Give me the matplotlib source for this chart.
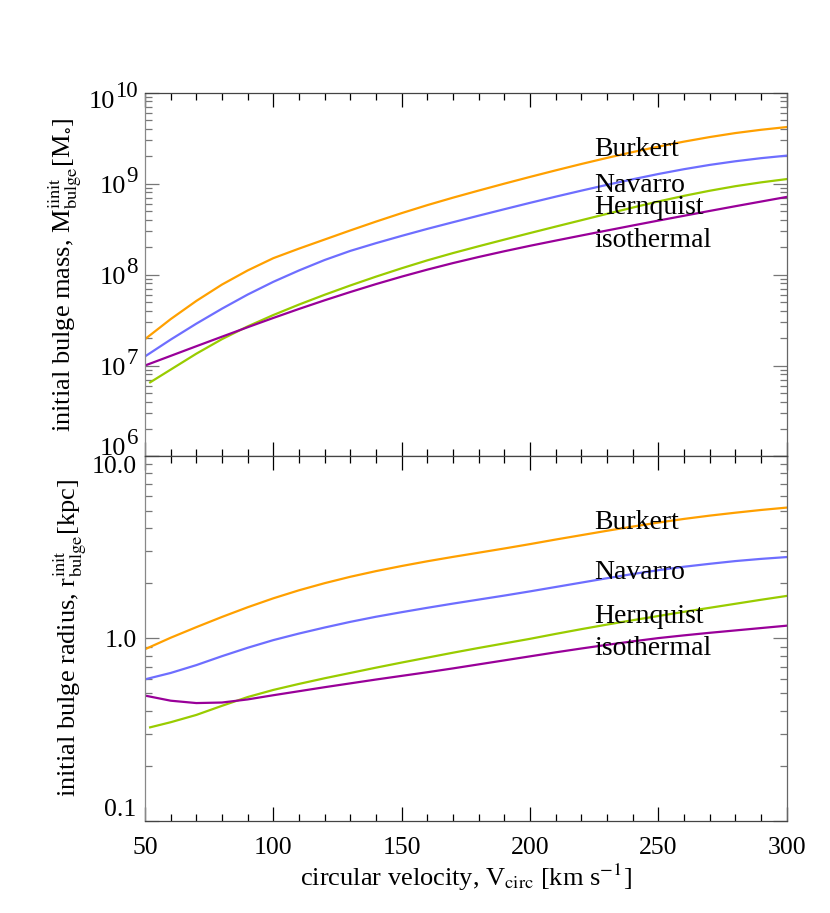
import numpy as np
import matplotlib
matplotlib.use("Agg")
import matplotlib.pyplot as plt
from matplotlib.ticker import LogLocator, FixedLocator, FixedFormatter, NullFormatter, MultipleLocator
from matplotlib.transforms import blended_transform_factory, offset_copy

plt.rcParams['font.family'] = ['Liberation Serif', 'DejaVu Serif']
plt.rcParams['mathtext.fontset'] = 'stix'

# circular velocity grid [km/s]
vcirc = [50, 60, 70, 80, 90, 100, 110, 120, 130, 140, 150, 160, 170, 180, 190,
         200, 210, 220, 230, 240, 250, 260, 270, 280, 290, 300]
vcirc_hern = [52] + vcirc[1:]

# log10 initial bulge mass [Msun]
logm_burkert = [7.29, 7.51, 7.71, 7.89, 8.045, 8.18, 8.285, 8.385, 8.485, 8.582, 8.675, 8.763, 8.845,
                8.923, 8.999, 9.073, 9.145, 9.215, 9.282, 9.346, 9.406, 9.461, 9.511, 9.555, 9.591, 9.621]
logm_navarro = [7.10, 7.285, 7.46, 7.625, 7.78, 7.92, 8.045, 8.16, 8.26, 8.345, 8.425, 8.502, 8.575,
                8.647, 8.718, 8.788, 8.856, 8.922, 8.986, 9.047, 9.105, 9.158, 9.205, 9.245, 9.279, 9.307]
logm_hernquist = [6.815, 6.955, 7.13, 7.29, 7.43, 7.555, 7.67, 7.778, 7.88, 7.977, 8.069, 8.156, 8.236,
                  8.311, 8.384, 8.456, 8.527, 8.597, 8.667, 8.736, 8.803, 8.865, 8.921, 8.971, 9.013, 9.049]
logm_iso = [7.00, 7.106, 7.212, 7.317, 7.421, 7.523, 7.622, 7.717, 7.808, 7.895, 7.977, 8.054, 8.126,
            8.193, 8.256, 8.316, 8.373, 8.429, 8.484, 8.539, 8.593, 8.646, 8.699, 8.751, 8.802, 8.853]

# log10 initial bulge radius [kpc]
logr_burkert = [-0.06, 0.003, 0.061, 0.117, 0.17, 0.219, 0.263, 0.302, 0.337, 0.368, 0.396, 0.422, 0.446,
                0.469, 0.492, 0.516, 0.541, 0.565, 0.589, 0.612, 0.634, 0.654, 0.672, 0.688, 0.703, 0.716]
logr_navarro = [-0.225, -0.19, -0.147, -0.098, -0.052, -0.01, 0.026, 0.059, 0.09, 0.118, 0.143, 0.167, 0.19,
                0.212, 0.234, 0.257, 0.281, 0.305, 0.329, 0.352, 0.373, 0.392, 0.408, 0.423, 0.435, 0.445]
logr_hernquist = [-0.488, -0.46, -0.42, -0.37, -0.322, -0.283, -0.25, -0.219, -0.19, -0.161, -0.133, -0.106, -0.079,
                  -0.053, -0.028, -0.003, 0.024, 0.05, 0.075, 0.099, 0.122, 0.145, 0.167, 0.189, 0.211, 0.232]
logr_iso = [-0.314, -0.342, -0.355, -0.352, -0.335, -0.312, -0.29, -0.268, -0.247, -0.226, -0.206, -0.186, -0.165,
            -0.143, -0.121, -0.099, -0.077, -0.056, -0.036, -0.017, 0.001, 0.016, 0.03, 0.043, 0.056, 0.069]

names = ['Burkert', 'Navarro', 'Hernquist', 'isothermal']
colors = ['#ffa000', '#6e6eff', '#99cc00', '#990099']

mass_ticks = [1e6, 1e7, 1e8, 1e9, 1e10]
mass_exps = ['6', '7', '8', '9', '10']

fig = plt.figure(figsize=(8.3, 9.13), dpi=100)
ax1 = fig.add_axes([0.1747, 0.5, 0.7731, 0.3986])
ax2 = fig.add_axes([0.1747, 0.101, 0.7731, 0.3998])

xs = [vcirc, vcirc, vcirc_hern, vcirc]
for ax, ys in ((ax1, [logm_burkert, logm_navarro, logm_hernquist, logm_iso]),
               (ax2, [logr_burkert, logr_navarro, logr_hernquist, logr_iso])):
    for x, y, c in zip(xs, ys, colors):
        ax.plot(x, 10 ** np.array(y), color=c, lw=1.6)
    ax.set_yscale('log')
    ax.set_xlim(50, 300)
    ax.xaxis.set_major_locator(MultipleLocator(50))
    ax.xaxis.set_minor_locator(MultipleLocator(10))
    ax.tick_params(which='both', direction='in', top=True, right=True, labelsize=18.5)
    ax.tick_params(which='major', length=10, width=0.9)
    ax.tick_params(which='minor', length=5, width=0.9)
    ax.tick_params(axis='y', which='both', color='#777777')
    for sp in ax.spines.values():
        sp.set_color('#444444')
        sp.set_linewidth(0.9)
    ax.spines['left'].set_color('#888888')
    ax.spines['right'].set_color('#666666')

# top panel
ax1.set_ylim(1e6, 1e10)
ax1.yaxis.set_major_locator(FixedLocator(mass_ticks))
ax1.yaxis.set_minor_locator(LogLocator(base=10, subs=np.arange(2, 10), numticks=20))
ax1.yaxis.set_minor_formatter(NullFormatter())
ax1.tick_params(axis='x', labelbottom=False)
ax1.tick_params(axis='y', labelleft=False)
ax1.set_ylabel(r'initial bulge mass, M$^{\rm iinit}_{\rm bulge}$[M$_{\circ}$]', fontsize=19)
ax1.yaxis.set_label_coords(-0.095, 0.5)

# IDL-like 10^n labels: big superscript, end labels kept inside the panel
trans = blended_transform_factory(ax1.transAxes, ax1.transData)
base_drop = {'6': -1.6, '7': 9, '8': 9, '9': 9, '10': 15.6}
for val, ex in zip(mass_ticks, mass_exps):
    sup_w = 11.5 * len(ex)
    xoff = -(7 + sup_w)
    yb = -base_drop[ex]
    ax1.text(0, val, '10', transform=offset_copy(trans, fig=fig, x=xoff, y=yb, units='dots'),
             ha='right', va='baseline', fontsize=19, clip_on=False)
    ax1.text(0, val, ex, transform=offset_copy(trans, fig=fig, x=xoff, y=yb + 11, units='dots'),
             ha='left', va='baseline', fontsize=16.5, clip_on=False)

# bottom panel
ax2.set_ylim(0.1, 10)
ax2.yaxis.set_major_locator(FixedLocator([0.1, 1.0, 10.0]))
ax2.yaxis.set_major_formatter(FixedFormatter(['0.1', '1.0', '10.0']))
ax2.yaxis.set_minor_locator(LogLocator(base=10, subs=np.arange(2, 10), numticks=20))
ax2.yaxis.set_minor_formatter(NullFormatter())
ax2.tick_params(axis='y', pad=6)
ax2.tick_params(axis='x', pad=12)
ax2.set_ylabel(r'initial bulge radius, r$^{\rm init}_{\rm bulge}$[kpc]', fontsize=19)
ax2.yaxis.set_label_coords(-0.087, 0.5)
ax2.set_xlabel(r'circular velocity, V$_{\rm circ}$ [km s$^{-1}$]', fontsize=19, labelpad=2)

fig.canvas.draw()
lbls = ax2.get_yticklabels()
lbls[0].set_verticalalignment('bottom')
lbls[-1].set_verticalalignment('top')

# curve labels
for ax, ypos in ((ax1, [0.827, 0.728, 0.667, 0.577]), (ax2, [0.799, 0.662, 0.541, 0.454])):
    for name, yy in zip(names, ypos):
        ax.text(0.700, yy, name, transform=ax.transAxes, fontsize=20, va='baseline', ha='left')

fig.savefig('out.png', dpi=100)
